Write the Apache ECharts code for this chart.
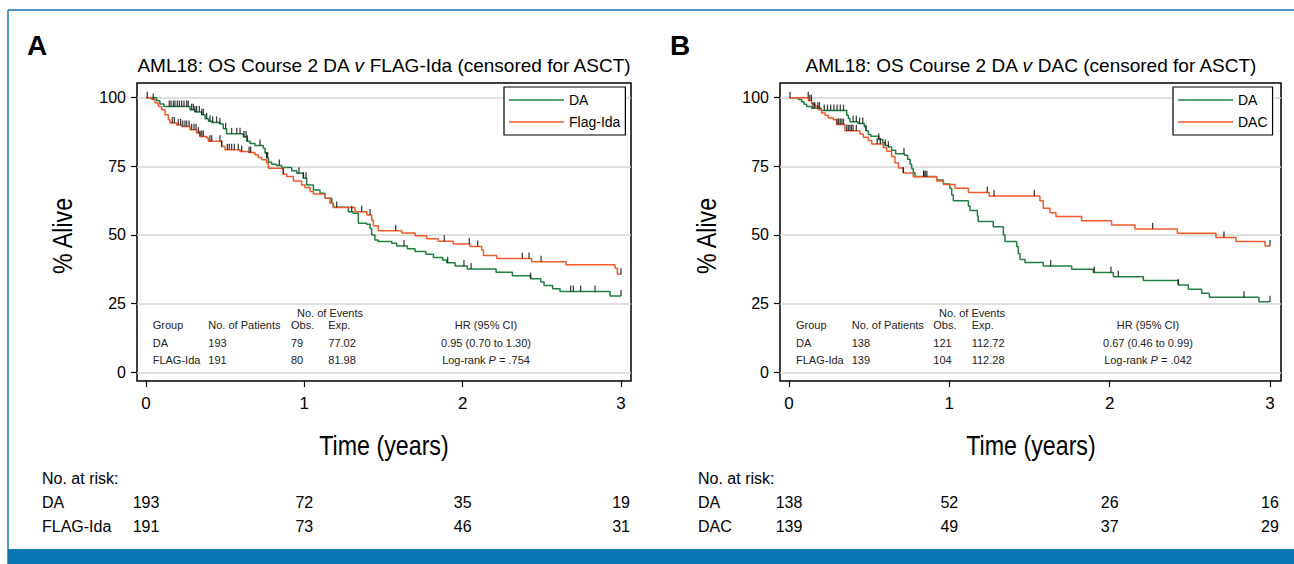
<!DOCTYPE html>
<html><head><meta charset="utf-8">
<script src="https://cdn.jsdelivr.net/npm/echarts@6/dist/echarts.min.js"></script>
<style>html,body{margin:0;padding:0;background:#fff}#c{width:1294px;height:564px}</style>
</head><body><div id="c"></div>
<script>
// ---------- tick labels ----------
const xTicks = [0, 1, 2, 3];
const xTickLabels = ['0', '1', '2', '3'];
const yTicks = [0, 25, 50, 75, 100];
const yTickLabels = ['0', '25', '50', '75', '100'];
const xTitle = 'Time (years)';
const yTitle = '% Alive';

// ---------- Panel A: DA v FLAG-Ida ----------
const aDaTime = [0,0.067,0.088,0.114,0.278,0.309,0.352,0.373,0.395,0.415,0.467,0.488,0.509,0.615,0.636,0.657,0.688,0.741,0.752,0.762,0.773,0.794,0.825,0.857,0.920,0.952,0.994,1.015,1.057,1.099,1.131,1.173,1.183,1.278,1.309,1.341,1.394,1.415,1.425,1.446,1.467,1.552,1.583,1.651,1.699,1.768,1.815,1.874,1.899,1.952,2.029,2.211,2.314,2.429,2.493,2.514,2.568,2.615,2.931,3.0];
const aDaSurv = [100,98.9,97.7,96.8,95.6,94.8,93.8,92.3,91.4,91.0,90.4,88.7,86.9,85.7,84.1,83.3,82.6,81.6,79.8,78.0,76.5,75.8,75.3,74.6,73.4,72.5,70.7,68.2,66.4,65.2,63.4,61.6,60.1,58.5,57.9,54.3,53.9,52.4,50.0,48.2,47.6,47.0,46.0,45.0,44.0,43.0,41.8,40.9,39.9,38.7,37.6,36.4,35.2,34.1,32.9,31.6,30.4,29.4,27.8,27.8];
const aFlagTime = [0,0.036,0.057,0.078,0.099,0.120,0.141,0.152,0.194,0.225,0.278,0.320,0.341,0.383,0.394,0.478,0.499,0.594,0.646,0.688,0.709,0.731,0.762,0.773,0.867,0.888,0.931,0.983,1.004,1.036,1.057,1.131,1.162,1.183,1.320,1.394,1.425,1.436,1.467,1.615,1.699,1.773,1.846,1.941,2.046,2.120,2.131,2.215,2.436,2.653,2.962,2.977,3.0];
const aFlagSurv = [100,99.3,98.1,96.8,95.6,93.8,92.0,90.8,90.1,89.5,88.3,87.1,85.9,85.3,84.1,82.2,81.0,80.4,80.0,79.2,78.2,77.4,76.2,74.3,72.1,71.3,69.7,68.2,67.3,65.8,64.9,63.4,61.6,60.0,58.5,57.3,55.5,53.4,51.5,50.7,49.7,48.6,47.7,46.7,45.8,44.5,42.5,41.4,40.3,39.2,37.9,35.7,35.7];
const aDaCensor = [0.008,0.147,0.158,0.173,0.183,0.198,0.211,0.225,0.240,0.257,0.267,0.288,0.299,0.309,0.320,0.337,0.352,0.362,0.383,0.404,0.421,0.446,0.467,0.503,0.541,0.573,0.594,0.619,0.632,0.640,0.720,0.762,0.768,0.842,0.966,0.994,1.011,1.299,1.629,1.905,2.008,2.053,2.429,2.682,2.699,2.745,2.836,3.0];
const aFlagCensor = [0.046,0.166,0.179,0.204,0.219,0.232,0.246,0.257,0.272,0.288,0.303,0.316,0.331,0.341,0.352,0.362,0.404,0.415,0.467,0.478,0.514,0.526,0.541,0.558,0.583,0.604,0.651,0.661,0.867,1.204,1.362,1.415,1.577,1.884,2.042,2.095,2.377,2.419,2.495,3.0];

// ---------- Panel B: DA v DAC ----------
const bDaTime = [0,0.058,0.079,0.094,0.110,0.141,0.2,0.36,0.37,0.38,0.43,0.47,0.48,0.495,0.51,0.56,0.585,0.6,0.62,0.64,0.665,0.72,0.74,0.755,0.765,0.775,0.786,0.921,0.963,1.004,1.015,1.025,1.119,1.129,1.175,1.18,1.274,1.337,1.347,1.42,1.43,1.441,1.472,1.586,1.763,1.898,2.023,2.21,2.428,2.491,2.574,2.622,2.931,3.0];
const bDaSurv = [100,99.3,98.5,97.6,96.8,96.2,95.3,93.6,92.4,91.2,90.6,89.4,88.0,86.6,86.0,84.8,83.6,82.6,82.0,80.9,79.6,79.0,77.6,75.8,74.2,72.7,71.3,70.0,68.6,67.0,64.6,62.5,60.6,58.9,56.9,54.9,53.0,50.0,47.6,45.8,43.3,41.1,40.0,38.7,37.5,36.3,34.8,33.4,31.8,30.2,28.8,27.3,25.7,25.7];
const bDacTime = [0,0.121,0.141,0.162,0.183,0.204,0.225,0.245,0.277,0.297,0.349,0.443,0.464,0.495,0.516,0.588,0.609,0.640,0.661,0.682,0.713,0.775,0.921,0.963,1.035,1.119,1.249,1.565,1.586,1.628,1.665,1.825,2.012,2.158,2.422,2.663,2.788,2.969,3.0];
const bDacSurv = [100,98.9,97.7,96.9,95.6,94.4,93.6,92.6,92.0,90.2,88.0,86.8,85.6,84.4,83.1,81.9,80.5,78.6,76.2,74.4,72.6,71.2,69.7,68.4,67.0,65.5,64.2,62.5,59.7,58.1,56.7,55.2,53.6,52.2,50.6,49.1,47.6,46.0,46.0];
const bDaCensor = [0.006,0.15,0.16,0.18,0.19,0.22,0.24,0.26,0.28,0.30,0.32,0.34,0.40,0.42,0.44,0.46,0.48,0.56,0.60,0.62,0.717,0.84,1.632,1.904,2.008,2.054,2.428,2.838,3.0];
const bDacCensor = [0.12,0.13,0.14,0.30,0.31,0.32,0.33,0.34,0.36,0.37,0.38,0.39,0.40,0.42,0.55,0.57,0.713,0.84,0.85,0.86,1.237,1.279,1.530,2.268,2.713,3.0];

// ---------- numbers at risk ----------
const riskTimes = [0, 1, 2, 3];
const riskA_DA = [193, 72, 35, 19];
const riskA_FLAG = [191, 73, 46, 31];
const riskB_DA = [138, 52, 26, 16];
const riskB_DAC = [139, 49, 37, 29];

// ---------- statistics tables ----------
const statsHeader = ['Group', 'No. of Patients', 'Obs.', 'Exp.', 'HR (95% CI)'];
const statsA = [['DA', '193', '79', '77.02', '0.95 (0.70 to 1.30)'], ['FLAG-Ida', '191', '80', '81.98', '.754']];
const statsB = [['DA', '138', '121', '112.72', '0.67 (0.46 to 0.99)'], ['FLAG-Ida', '139', '104', '112.28', '.042']];

// ---------- styling / layout ----------
const GREEN = '#1f7f41', ORANGE = '#ef5a2a', BLUE = '#0a77b4';
const FONT = "'Liberation Sans', Arial, Helvetica, sans-serif";

function zip(t, s) { return t.map((v, i) => [v, s[i]]); }
function survAt(t, s, x) { let v = s[0]; for (let i = 0; i < t.length; i++) { if (t[i] <= x) v = s[i]; } return v; }
function censorPts(ct, t, s) { return ct.map(x => [x, survAt(t, s, x)]); }

const chart = echarts.init(document.getElementById('c'), null, { renderer: 'svg', width: 1294, height: 564 });

function xAxisCfg(gi, min, max) {
  return {
    gridIndex: gi, type: 'value', min: min, max: max,
    axisLine: { show: false, onZero: false },
    axisTick: { show: true, customValues: xTicks, length: 6, lineStyle: { color: '#000', width: 1.2 } },
    axisLabel: { customValues: xTicks, formatter: v => xTickLabels[xTicks.indexOf(v)] ?? '', fontSize: 17, color: '#000', margin: 14, fontFamily: FONT },
    splitLine: { show: false }
  };
}
function yAxisCfg(gi) {
  return {
    gridIndex: gi, type: 'value', min: -3.17, max: 105.35,
    axisLine: { show: false, onZero: false },
    axisTick: { show: true, customValues: yTicks, length: 6, lineStyle: { color: '#000', width: 1.2 } },
    axisLabel: { customValues: yTicks, formatter: v => yTickLabels[yTicks.indexOf(v)] ?? '', fontSize: 16, color: '#000', margin: 11, fontFamily: FONT },
    splitLine: { show: true, lineStyle: { color: '#d4d4d4', width: 1.5 } }
  };
}
function lineS(name, gi, t, s, color) {
  return { name: name, type: 'line', step: 'end', xAxisIndex: gi, yAxisIndex: gi, data: zip(t, s),
    symbol: 'none', showSymbol: false, lineStyle: { color: color, width: 1.5 }, itemStyle: { color: color },
    silent: true, z: 3 };
}
function censorS(name, gi, pts) {
  return { name: name, type: 'scatter', xAxisIndex: gi, yAxisIndex: gi, data: pts,
    symbol: 'rect', symbolSize: [1.3, 6], symbolOffset: [0, -3], itemStyle: { color: '#111' }, silent: true, z: 4 };
}
function legendCfg(names, left) {
  return {
    data: names, left: left, top: 87, orient: 'vertical', itemWidth: 55, itemHeight: 14, itemGap: 8,
    icon: 'path://M0,0H110V3H0Z',
    padding: [6, 5, 6, 5], borderColor: '#000', borderWidth: 1.2, backgroundColor: '#fff',
    textStyle: { fontSize: 14, color: '#000', fontFamily: FONT },
    selectedMode: false
  };
}

const option = {
  animation: false,
  backgroundColor: '#fff',
  textStyle: { fontFamily: FONT },
  grid: [
    { left: 137, top: 83, width: 494, height: 298, show: true, borderColor: '#000', borderWidth: 1.5, backgroundColor: '#fff' },
    { left: 780, top: 83, width: 501, height: 298, show: true, borderColor: '#000', borderWidth: 1.5, backgroundColor: '#fff' }
  ],
  xAxis: [xAxisCfg(0, -0.0568, 3.063), xAxisCfg(1, -0.0561, 3.0686)],
  yAxis: [yAxisCfg(0), yAxisCfg(1)],
  legend: [legendCfg(['DA', 'Flag-Ida'], 504), legendCfg(['DA', 'DAC'], 1173)],
  series: [
    lineS('DA', 0, aDaTime, aDaSurv, GREEN),
    lineS('Flag-Ida', 0, aFlagTime, aFlagSurv, ORANGE),
    censorS('censA1', 0, censorPts(aDaCensor, aDaTime, aDaSurv)),
    censorS('censA2', 0, censorPts(aFlagCensor, aFlagTime, aFlagSurv)),
    lineS('DA', 1, bDaTime, bDaSurv, GREEN),
    lineS('DAC', 1, bDacTime, bDacSurv, ORANGE),
    censorS('censB1', 1, censorPts(bDaCensor, bDaTime, bDaSurv)),
    censorS('censB2', 1, censorPts(bDacCensor, bDacTime, bDacSurv))
  ]
};
chart.setOption(option);

// ---------- text elements ----------
function T(x, y, text, o) {
  o = o || {};
  const st = {
    text: text, x: 0, y: 0, fill: o.color || '#000',
    fontSize: o.size || 11, fontFamily: o.family || FONT, fontWeight: o.weight || 'normal',
    align: o.align || 'left', textAlign: o.align || 'left',
    verticalAlign: 'middle', textVerticalAlign: 'middle'
  };
  if (o.rich) st.rich = o.rich;
  const el = { type: 'text', x: x, y: y, silent: true, z: 100, style: st };
  if (o.rotation) el.rotation = o.rotation;
  if (o.scaleX) el.scaleX = o.scaleX;
  return el;
}
const titleRich = {
  n: { fontSize: 19, fontFamily: FONT, fill: '#000', color: '#000' },
  i: { fontSize: 19, fontFamily: FONT, fontStyle: 'italic', fill: '#000', color: '#000' }
};
const tblRich = {
  n: { fontSize: 11, fontFamily: FONT, fill: '#222', color: '#222' },
  i: { fontSize: 11, fontFamily: FONT, fontStyle: 'italic', fill: '#222', color: '#222' }
};

function statsTable(cols, hrX, evX, rows) {
  const g = [];
  g.push(T(evX, 313, 'No. of Events', { size: 11, color: '#222', align: 'center' }));
  const ys = [325, 342.7, 360];
  statsHeader.forEach((h, j) => {
    if (j < 4) g.push(T(cols[j], ys[0], h, { size: 11, color: '#222' }));
    else g.push(T(hrX, ys[0], h, { size: 11, color: '#222', align: 'center' }));
  });
  rows.forEach((r, i) => {
    for (let j = 0; j < 4; j++) g.push(T(cols[j], ys[i + 1], r[j], { size: 11, color: '#222' }));
    if (i === 0) g.push(T(hrX, ys[1], r[4], { size: 11, color: '#222', align: 'center' }));
    else g.push(T(hrX, ys[2], '{n|Log-rank }{i|P}{n| = ' + r[4] + '}', { size: 11, color: '#222', align: 'center', rich: tblRich }));
  });
  return g;
}

function riskTable(gi, labelX, names, rows) {
  const g = [];
  g.push(T(labelX, 478, 'No. at risk:', { size: 16 }));
  const ys = [502, 526];
  names.forEach((n, i) => {
    g.push(T(labelX, ys[i], n, { size: 16 }));
    rows[i].forEach((v, k) => {
      const px = chart.convertToPixel({ xAxisIndex: gi }, riskTimes[k]);
      g.push(T(px, ys[i], String(v), { size: 16, align: 'center' }));
    });
  });
  return g;
}

const graphics = [
  // blue figure frame
  { type: 'line', shape: { x1: 8, y1: 10, x2: 1294, y2: 10 }, style: { stroke: BLUE, lineWidth: 1.5 }, silent: true },
  { type: 'line', shape: { x1: 8, y1: 10, x2: 8, y2: 549 }, style: { stroke: BLUE, lineWidth: 1.5 }, silent: true },
  { type: 'rect', shape: { x: 7.25, y: 549, width: 1290, height: 16 }, style: { fill: BLUE }, silent: true },
  // panel letters
  T(27, 45, 'A', { size: 28, weight: 'bold' }),
  T(670, 45, 'B', { size: 28, weight: 'bold' }),
  // titles
  T(384, 65, '{n|AML18: OS Course 2 DA }{i|v}{n| FLAG-Ida (censored for ASCT)}', { size: 19, align: 'center', rich: titleRich }),
  T(1031, 65, '{n|AML18: OS Course 2 DA }{i|v}{n| DAC (censored for ASCT)}', { size: 19, align: 'center', rich: titleRich }),
  // axis titles (condensed look)
  T(384, 445, xTitle, { size: 27, align: 'center', scaleX: 0.86 }),
  T(1031, 445, xTitle, { size: 27, align: 'center', scaleX: 0.86 }),
  T(62, 236, yTitle, { size: 27, align: 'center', scaleX: 0.86, rotation: Math.PI / 2 }),
  T(706, 236, yTitle, { size: 27, align: 'center', scaleX: 0.86, rotation: Math.PI / 2 })
]
  .concat(statsTable([152.7, 208.3, 291, 328.3], 486, 330, statsA))
  .concat(statsTable([796, 851.7, 933.3, 971.7], 1148, 972, statsB))
  .concat(riskTable(0, 42, ['DA', 'FLAG-Ida'], [riskA_DA, riskA_FLAG]))
  .concat(riskTable(1, 698, ['DA', 'DAC'], [riskB_DA, riskB_DAC]));

chart.setOption({ graphic: graphics });
</script>
</body></html>
